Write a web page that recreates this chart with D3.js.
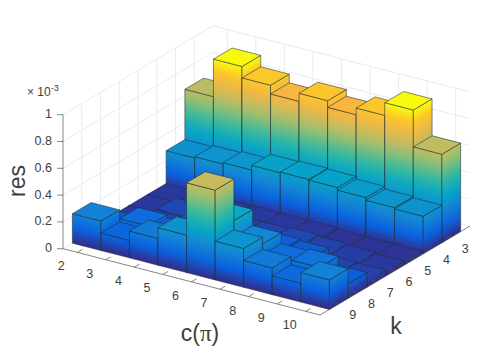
<!DOCTYPE html>
<html>
<head>
<meta charset="utf-8">
<script src="https://cdn.jsdelivr.net/npm/d3@7"></script>
<style>
html, body { margin: 0; padding: 0; background: #fff; }
text { font-family: "Liberation Sans", Arial, sans-serif; fill: #404040; }
</style>
</head>
<body>
<svg id="chart" width="491" height="354"></svg>
<script>
const cTicks = [2, 3, 4, 5, 6, 7, 8, 9, 10];
const kTicks = [3, 4, 5, 6, 7, 8, 9];
const zTicks = [0, 0.2, 0.4, 0.6, 0.8, 1];

// res x 1e3, one list per k
const resK3 = [0.65, 0.93, 0.845, 0.78, 0.84, 0.79, 0.84, 0.935, 0.66];
const resK4 = [0.275, 0.285, 0.295, 0.33, 0.335, 0.33, 0.31, 0.29, 0.28];
const resK5 = [0.03, 0.03, 0.03, 0.03, 0.03, 0.03, 0.02, 0.02, 0.02];
const resK6 = [0.03, 0.06, 0.05, 0.05, 0.05, 0.06, 0.05, 0.04, 0.03];
const resK7 = [0.03, 0.05, 0.08, 0.09, 0.055, 0.11, 0.1, 0.05, 0.045];
const resK8 = [0.09, 0.155, 0.13, 0.15, 0.36, 0.24, 0.16, 0.175, 0.11];
const resK9 = [0.22, 0.13, 0.2, 0.28, 0.67, 0.29, 0.2, 0.14, 0.22];
const resRows = [resK3, resK4, resK5, resK6, resK7, resK8, resK9];

// colormap stops, picked off the tall bars
const mapStops = [0, 0.125, 0.25, 0.375, 0.5, 0.625, 0.75, 0.85, 0.93, 1];
const mapColors = ['#352a87', '#0a62e0', '#1485d4', '#06a7c6', '#38b99e', '#92bf73', '#d9ba56', '#fdb63a', '#fbd020', '#f9fb0e'];
const resMax = 0.935;

const svg = d3.select('#chart');
const defs = svg.append('defs');

// the three box directions are plain scales, projection just adds them up
const cX = d3.scaleLinear().domain([1.5, 10.5]).range([0, 257]);
const cY = d3.scaleLinear().domain([1.5, 10.5]).range([0, 66.3]);
const kX = d3.scaleLinear().domain([10, 2]).range([0, 150]);
const kY = d3.scaleLinear().domain([10, 2]).range([0, -89]);
const zY = d3.scaleLinear().domain([0, 1]).range([0, -134]);
const originX = 63, originY = 248.7;

const color = d3.scaleLinear()
    .domain(mapStops.map(s => s * resMax))
    .range(mapColors)
    .clamp(true);

function px(c, k) { return originX + cX(c) + kX(k); }
function py(c, k, z) { return originY + cY(c) + kY(k) + zY(z); }
function pt(c, k, z) { return [px(c, k), py(c, k, z)]; }
function path(points) { return 'M' + points.map(p => p.map(v => v.toFixed(2)).join(',')).join('L') + 'Z'; }

// walls and floor grid
const grid = svg.append('g').attr('fill', 'none').attr('stroke', '#ebebeb').attr('stroke-width', 1);
function gridLine(a, b) {
    grid.append('line').attr('x1', a[0]).attr('y1', a[1]).attr('x2', b[0]).attr('y2', b[1]);
}
zTicks.forEach(z => {
    gridLine(pt(1.5, 10, z), pt(1.5, 2, z));
    gridLine(pt(1.5, 2, z), pt(10.5, 2, z));
});
cTicks.forEach(c => gridLine(pt(c, 2, 0), pt(c, 2, 1)));
kTicks.forEach(k => gridLine(pt(1.5, k, 0), pt(1.5, k, 1)));

// bars, back to front
let gradId = 0;
function faceGradient(base, top, dir, z) {
    // iso-height lines on a side face run along dir, not horizontally
    const len = Math.hypot(dir[0], dir[1]);
    const nx = -dir[1] / len, ny = dir[0] / len;
    const d = (top[0] - base[0]) * nx + (top[1] - base[1]) * ny;
    const id = 'g' + (gradId++);
    const g = defs.append('linearGradient').attr('id', id)
        .attr('gradientUnits', 'userSpaceOnUse')
        .attr('x1', base[0]).attr('y1', base[1])
        .attr('x2', base[0] + nx * d).attr('y2', base[1] + ny * d);
    d3.range(0, 1.001, 0.1).forEach(t => {
        g.append('stop').attr('offset', t).attr('stop-color', color(t * z));
    });
    return 'url(#' + id + ')';
}

const bars = svg.append('g').attr('stroke', '#1c3038').attr('stroke-opacity', 0.75).attr('stroke-width', 0.75).attr('stroke-linejoin', 'round');
kTicks.forEach((k, row) => {
    cTicks.forEach((c, col) => {
        const z = resRows[row][col];
        const x0 = c - 0.5, x1 = c + 0.5, k0 = k - 0.5, k1 = k + 0.5;
        const g = bars.append('g');
        // front face, along c
        g.append('path')
            .attr('d', path([pt(x0, k1, 0), pt(x1, k1, 0), pt(x1, k1, z), pt(x0, k1, z)]))
            .attr('fill', faceGradient(pt(x0, k1, 0), pt(x0, k1, z), [cX(x1) - cX(x0), cY(x1) - cY(x0)], z));
        // right face, along k
        g.append('path')
            .attr('d', path([pt(x1, k1, 0), pt(x1, k0, 0), pt(x1, k0, z), pt(x1, k1, z)]))
            .attr('fill', faceGradient(pt(x1, k1, 0), pt(x1, k1, z), [kX(k0) - kX(k1), kY(k0) - kY(k1)], z));
        g.append('path')
            .attr('d', path([pt(x0, k1, z), pt(x1, k1, z), pt(x1, k0, z), pt(x0, k0, z)]))
            .attr('fill', color(z));
    });
});

// axis lines
const axes = svg.append('g').attr('stroke', '#505050').attr('stroke-width', 0.7).attr('fill', 'none');
function axisLine(a, b) {
    axes.append('line').attr('x1', a[0]).attr('y1', a[1]).attr('x2', b[0]).attr('y2', b[1]);
}
axisLine(pt(1.5, 10, 0), pt(1.5, 10, 1));
axisLine(pt(1.5, 10, 0), pt(10.5, 10, 0));
axisLine(pt(10.5, 10, 0), pt(10.5, 2, 0));

const labels = svg.append('g').attr('font-size', 12.5);
zTicks.forEach(z => {
    const p = pt(1.5, 10, z);
    axisLine(p, [p[0] - 6, p[1]]);
    labels.append('text').attr('x', p[0] - 11).attr('y', p[1] + 3.5)
        .attr('text-anchor', 'end').text(d3.format('~g')(z));
});
cTicks.forEach(c => {
    const p = pt(c, 10, 0);
    axisLine(p, [p[0] + 5, p[1] - 3]);
    labels.append('text').attr('x', p[0] - 16).attr('y', p[1] + 18)
        .attr('text-anchor', 'middle').text(c);
});
kTicks.forEach(k => {
    const p = pt(10.5, k, 0);
    axisLine(p, [p[0] - 5, p[1] - 1.3]);
    labels.append('text').attr('x', p[0] + 14).attr('y', p[1] + 15.5)
        .attr('text-anchor', 'middle').text(k);
});

// exponent above the z axis
const expo = svg.append('text').attr('x', 27).attr('y', 96).attr('font-size', 12);
expo.append('tspan').text('\u00d7 10');
expo.append('tspan').attr('dy', -5).attr('font-size', 9).text('-3');

svg.append('text').attr('transform', 'translate(25,181) rotate(-90)')
    .attr('text-anchor', 'middle').attr('font-size', 23).text('res');
const cLabel = svg.append('text').attr('x', 200).attr('y', 341).attr('text-anchor', 'middle').attr('font-size', 23);
cLabel.append('tspan').text('c(');
cLabel.append('tspan').attr('font-family', 'Liberation Serif').attr('font-size', 23).text('\u03c0');
cLabel.append('tspan').text(')');
svg.append('text').attr('x', 396).attr('y', 334).attr('text-anchor', 'middle').attr('font-size', 23).text('k');
</script>
</body>
</html>
